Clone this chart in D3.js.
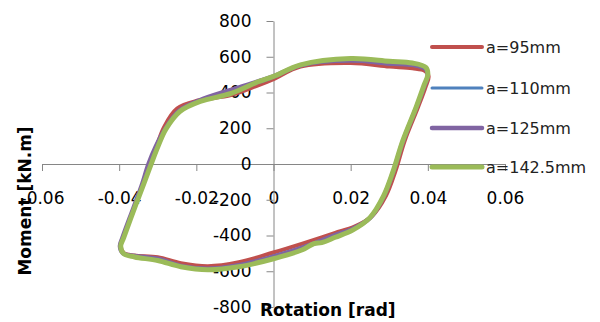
<!DOCTYPE html>
<html>
<head>
<meta charset="utf-8">
<script src="https://cdn.jsdelivr.net/npm/d3@7"></script>
<style>
  body { margin: 0; background: #fff; }
  .tick text { font-family: "DejaVu Sans", sans-serif; font-size: 17px; fill: #000; }
  .axis-title { font-family: "DejaVu Sans", sans-serif; font-size: 17px; font-weight: bold; fill: #000; }
  .legend-label { font-family: "DejaVu Sans", sans-serif; font-size: 16px; fill: #222; }
</style>
</head>
<body>
<div id="viz-container"></div>
<script>
var width = 600,
    height = 322;

// series names and colours
var seriesNames = ["a=95mm", "a=110mm", "a=125mm", "a=142.5mm"];
var seriesColors = ["#C0504D", "#4F81BD", "#8064A2", "#9BBB59"];
var seriesWidths = [4, 3, 4.5, 5];

// tick values
var xTicks = [-0.06, -0.04, -0.02, 0, 0.02, 0.04, 0.06];
var yTicks = [-800, -600, -400, -200, 0, 200, 400, 600, 800];

// a=95mm
var rot95 = [-0.0396, -0.0389, -0.0360, -0.0338, -0.0320, -0.0302, -0.0284, -0.0250, -0.0195, -0.0110, -0.0040, 0.0000, 0.0070, 0.0200, 0.0300, 0.0360, 0.0393, 0.0402, 0.0394, 0.0375, 0.0340, 0.0316, 0.0291, 0.0256, 0.0210, 0.0160, 0.0125, 0.0075, 0.0000, -0.0090, -0.0170, -0.0240, -0.0300, -0.0360, -0.0388];
var mom95 = [-460, -410, -240, -110, 0, 105, 205, 310, 355, 385, 440, 475, 545, 565, 545, 535, 520, 490, 430, 320, 130, -40, -180, -290, -350, -385, -410, -445, -495, -550, -572, -555, -522, -512, -498];

// a=110mm
var rot110 = [-0.0397, -0.0390, -0.0361, -0.0339, -0.0322, -0.0303, -0.0282, -0.0245, -0.0192, -0.0110, -0.0040, 0.0000, 0.0070, 0.0200, 0.0300, 0.0360, 0.0394, 0.0400, 0.0391, 0.0371, 0.0336, 0.0311, 0.0286, 0.0251, 0.0206, 0.0160, 0.0125, 0.0075, 0.0000, -0.0090, -0.0170, -0.0240, -0.0300, -0.0360, -0.0389];
var mom110 = [-460, -410, -240, -110, 0, 100, 192, 300, 355, 410, 455, 485, 550, 578, 560, 552, 530, 495, 435, 320, 130, -40, -180, -300, -360, -395, -425, -465, -515, -565, -585, -570, -532, -515, -500];

// a=125mm
var rot125 = [-0.0398, -0.0391, -0.0362, -0.0340, -0.0324, -0.0305, -0.0283, -0.0246, -0.0193, -0.0110, -0.0040, 0.0000, 0.0070, 0.0200, 0.0300, 0.0360, 0.0394, 0.0400, 0.0391, 0.0371, 0.0336, 0.0311, 0.0286, 0.0251, 0.0206, 0.0160, 0.0125, 0.0075, 0.0000, -0.0090, -0.0170, -0.0240, -0.0300, -0.0360, -0.0390];
var mom125 = [-460, -410, -240, -110, 0, 98, 188, 295, 355, 415, 462, 490, 552, 580, 562, 555, 532, 497, 437, 320, 130, -40, -180, -300, -362, -398, -428, -468, -518, -566, -586, -570, -530, -514, -500];

// a=142.5mm
var rot142 = [-0.0396, -0.0388, -0.0359, -0.0336, -0.0317, -0.0299, -0.0279, -0.0242, -0.0190, -0.0110, -0.0040, 0.0000, 0.0070, 0.0200, 0.0300, 0.0360, 0.0395, 0.0400, 0.0390, 0.0370, 0.0335, 0.0310, 0.0285, 0.0250, 0.0205, 0.0160, 0.0125, 0.0105, 0.0075, 0.0000, -0.0090, -0.0170, -0.0240, -0.0300, -0.0360, -0.0388];
var mom142 = [-460, -410, -240, -110, 0, 100, 195, 295, 350, 395, 460, 490, 555, 590, 575, 565, 540, 500, 440, 320, 130, -40, -180, -300, -370, -410, -440, -445, -480, -530, -575, -592, -575, -540, -520, -502];

var allRot = [rot95, rot110, rot125, rot142];
var allMom = [mom95, mom110, mom125, mom142];

var series = seriesNames.map(function(name, i) {
  return {
    name: name,
    color: seriesColors[i],
    width: seriesWidths[i],
    points: allRot[i].map(function(r, j) { return [r, allMom[i][j]]; })
  };
});

var svg = d3.select("#viz-container")
            .append("svg")
            .attr("width", width)
            .attr("height", height);

var x = d3.scaleLinear().domain([-0.06, 0.06]).range([42, 505]);
var y = d3.scaleLinear().domain([-800, 800]).range([307, 21]);

var fmtX = function(d) { return d === 0 ? "0" : d3.format(".2f")(d).replace("\u2212", "-"); };
var fmtY = function(d) { return String(d); };

// x axis through the origin
svg.append("g")
   .attr("transform", "translate(0," + y(0) + ")")
   .call(d3.axisBottom(x).tickValues(xTicks).tickFormat(fmtX).tickSize(7).tickPadding(21).tickSizeOuter(0));

// y axis through the origin
svg.append("g")
   .attr("transform", "translate(" + x(0) + ",0)")
   .call(d3.axisLeft(y).tickValues(yTicks).tickFormat(fmtY).tickSize(7).tickPadding(15).tickSizeOuter(0));

svg.selectAll(".domain, .tick line").attr("stroke", "#868686");

// loops
var line = d3.line()
             .x(function(d) { return x(d[0]); })
             .y(function(d) { return y(d[1]); })
             .curve(d3.curveCatmullRomClosed.alpha(0.5));

svg.selectAll(".loop")
   .data(series)
   .enter().append("path")
   .attr("class", "loop")
   .attr("fill", "none")
   .attr("stroke", function(d) { return d.color; })
   .attr("stroke-width", function(d) { return d.width; })
   .attr("stroke-linejoin", "round")
   .attr("d", function(d) { return line(d.points); });

// axis titles
svg.append("text")
   .attr("class", "axis-title")
   .attr("transform", "translate(31,201) rotate(-90)")
   .attr("text-anchor", "middle")
   .text("Moment [kN.m]");

svg.append("text")
   .attr("class", "axis-title")
   .attr("x", 260)
   .attr("y", 316)
   .text("Rotation [rad]");

// legend
var legendY = [47, 88, 128, 167];
var legend = svg.selectAll(".legend-item")
   .data(series)
   .enter().append("g")
   .attr("class", "legend-item")
   .attr("transform", function(d, i) { return "translate(432," + legendY[i] + ")"; });

legend.append("line")
   .attr("x1", 0)
   .attr("x2", 50)
   .attr("stroke", function(d) { return d.color; })
   .attr("stroke-width", function(d) { return d.width; })
   .attr("stroke-linecap", "round");

legend.append("text")
   .attr("class", "legend-label")
   .attr("x", 54)
   .attr("y", 6)
   .text(function(d) { return d.name; });
</script>
</body>
</html>
